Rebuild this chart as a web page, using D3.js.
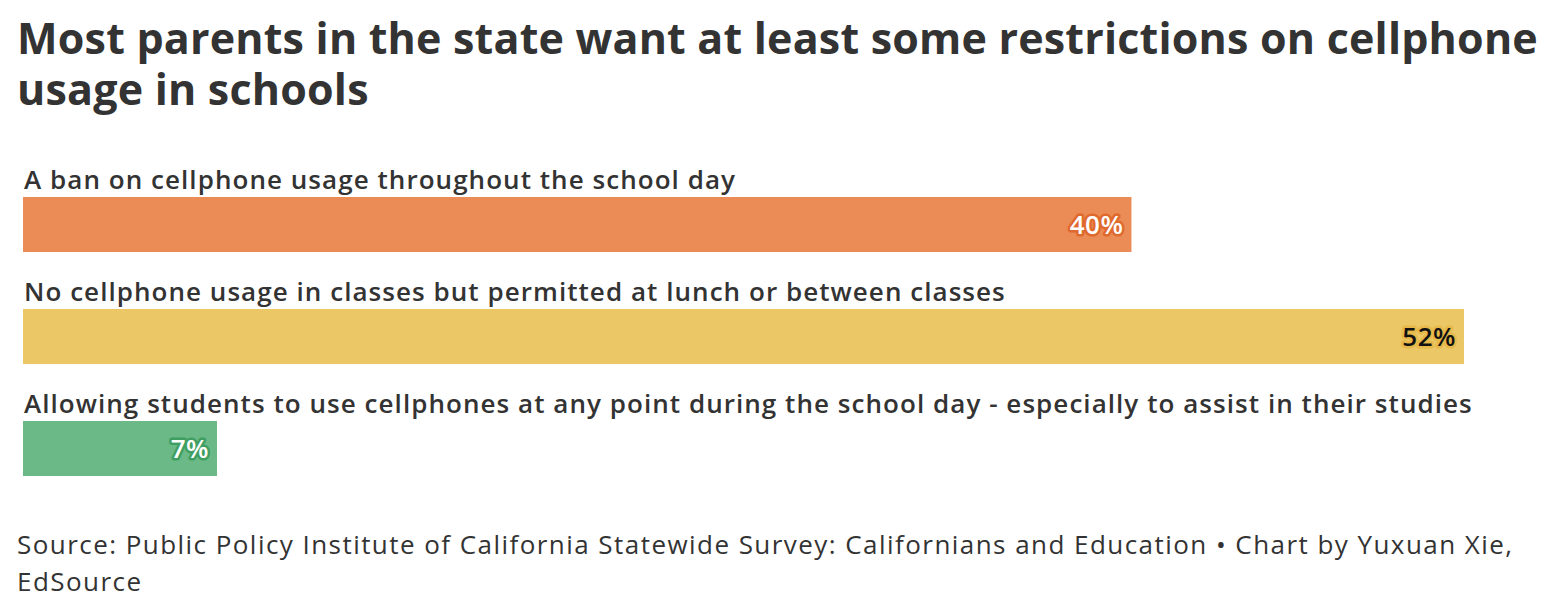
<!DOCTYPE html>
<html>
<head>
<meta charset="utf-8">
<script src="https://cdn.jsdelivr.net/npm/d3@7"></script>
<style>
  body { margin: 0; background: #fff; }
  svg { display: block; font-family: "Open Sans", "Noto Sans", sans-serif; }
</style>
</head>
<body>
<div id="chart"></div>
<script>
// Parent opinion on school cellphone rules, horizontal bars with inline labels

const categories = [
  "A ban on cellphone usage throughout the school day",
  "No cellphone usage in classes but permitted at lunch or between classes",
  "Allowing students to use cellphones at any point during the school day - especially to assist in their studies"
];
const values = [40, 52, 7];
const barColors = ["#eb8b55", "#ebc766", "#6bb986"];
const haloColors = ["#e0692d", "#e6b94a", "#3f9e61"];
const labelColors = ["#ffffff", "#111111", "#ffffff"];

const titleLines = [
  "Most parents in the state want at least some restrictions on cellphone",
  "usage in schools"
];
const sourceLines = [
  "Source: Public Policy Institute of California Statewide Survey: Californians and Education • Chart by Yuxuan Xie,",
  "EdSource"
];

const width = 1550, height = 604;
const margin = { left: 23, right: 86 };
const rowTop = 160, rowStep = 112, barOffset = 37, barH = 55;

const svg = d3.select("#chart").append("svg")
  .attr("width", width).attr("height", height);

// title
const title = svg.append("text")
  .attr("fill", "#333").attr("font-weight", 700).attr("font-size", 43)
  .attr("letter-spacing", 0.2);
title.selectAll("tspan").data(titleLines).join("tspan")
  .attr("x", 17).attr("y", (d, i) => 54 + i * 51)
  .text(d => d);

const x = d3.scaleLinear().domain([0, 52]).range([margin.left, width - margin.right]);
const y = d3.scaleBand().domain(d3.range(values.length))
  .range([rowTop, rowTop + rowStep * values.length]).padding(0);

const rows = svg.append("g").selectAll("g").data(values).join("g")
  .attr("transform", (d, i) => `translate(0,${y(i)})`);

rows.append("text")
  .attr("x", 24).attr("y", 29)
  .attr("fill", "#333").attr("font-weight", 600).attr("font-size", 26)
  .attr("letter-spacing", 1.05)
  .text((d, i) => categories[i]);

rows.append("rect")
  .attr("x", x(0)).attr("y", barOffset)
  .attr("width", d => x(d) - x(0)).attr("height", barH)
  .attr("fill", (d, i) => barColors[i]);

rows.append("text")
  .attr("x", d => x(d) - 8).attr("y", barOffset + barH / 2 + 9)
  .attr("text-anchor", "end")
  .attr("font-weight", 600).attr("font-size", 26).attr("letter-spacing", 0.5)
  .attr("fill", (d, i) => labelColors[i])
  .attr("stroke", (d, i) => haloColors[i]).attr("stroke-width", 5)
  .attr("stroke-linejoin", "round").attr("paint-order", "stroke")
  .text(d => d + "%");

// source
const src = svg.append("text")
  .attr("fill", "#333").attr("font-size", 26).attr("letter-spacing", 1.45);
src.selectAll("tspan").data(sourceLines).join("tspan")
  .attr("x", 17).attr("y", (d, i) => 554 + i * 37)
  .text(d => d);
</script>
</body>
</html>
